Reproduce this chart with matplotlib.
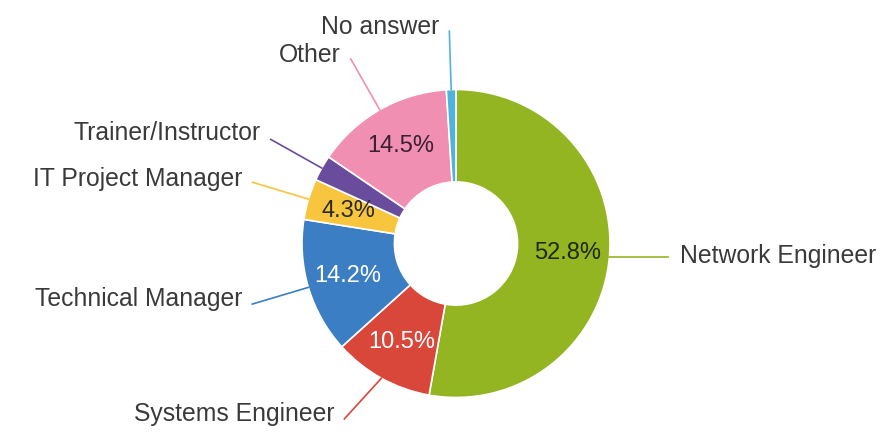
import numpy as np
import matplotlib
matplotlib.use("Agg")
import matplotlib.pyplot as plt

categories = ["Network Engineer", "Systems Engineer", "Technical Manager",
              "IT Project Manager", "Trainer/Instructor", "Other", "No answer"]
values = [52.8, 10.5, 14.2, 4.3, 2.7, 14.5, 1.0]
pct_labels = ["52.8%", "10.5%", "14.2%", "4.3%", "", "14.5%", ""]

colors = ["#93b521", "#d9463a", "#3b7ec3", "#f8c53e", "#6a4c9c", "#f18fb3", "#4fb3dd"]
pct_colors = ["#1e2a10", "white", "white", "#2a2a2a", "white", "#3a2030", "white"]

# label layout: leader end radius, end-angle shift (deg), extra vertical text shift (px)
end_radius = [1.38, 1.35, 1.38, 1.38, 1.38, 1.38, 1.38]
end_dang = [0, -3.5, 0, 0, 0, 0, 0]
text_dy_px = [1, 5, 5, 3, 6, 4, 4]

plt.rcParams['font.family'] = ['Liberation Sans', 'DejaVu Sans']

W, H = 881, 436
fig = plt.figure(figsize=(W / 100, H / 100), dpi=100)
ax = fig.add_axes([0, 0, 1, 1])

cx, cy, R = 456.0, 243.5, 154.0

wedges, _ = ax.pie(values, colors=colors, startangle=90, counterclock=False,
                   radius=1.0, wedgeprops=dict(width=0.6, edgecolor="white", linewidth=1.2))

ax.set_xlim(-cx / R, (W - cx) / R)
ax.set_ylim(-(H - cy) / R, cy / R)
ax.set_aspect('equal', adjustable='box')
ax.axis('off')

r_lab = 0.73
for i, w in enumerate(wedges):
    mid = (w.theta1 + w.theta2) / 2
    ang = np.deg2rad(mid)
    ca, sa = np.cos(ang), np.sin(ang)
    if pct_labels[i]:
        ax.text(r_lab * ca, r_lab * sa, pct_labels[i], ha='center', va='center',
                fontsize=17, color=pct_colors[i])
    re = end_radius[i]
    ang2 = np.deg2rad(mid + end_dang[i])
    x0, y0 = 1.0 * ca, 1.0 * sa
    x1, y1 = re * np.cos(ang2), re * np.sin(ang2)
    if i == 0:
        y1 = y0  # horizontal leader on the right
    ax.plot([x0, x1], [y0, y1], color=colors[i], lw=1.2)
    ha = 'left' if ca > 0 else 'right'
    off = 12 / R if ca > 0 else -10 / R
    ax.text(x1 + off, y1 + text_dy_px[i] / R, categories[i], ha=ha, va='center',
            fontsize=17.8, color="#3a3a3a")

fig.savefig("out.png", dpi=100)
